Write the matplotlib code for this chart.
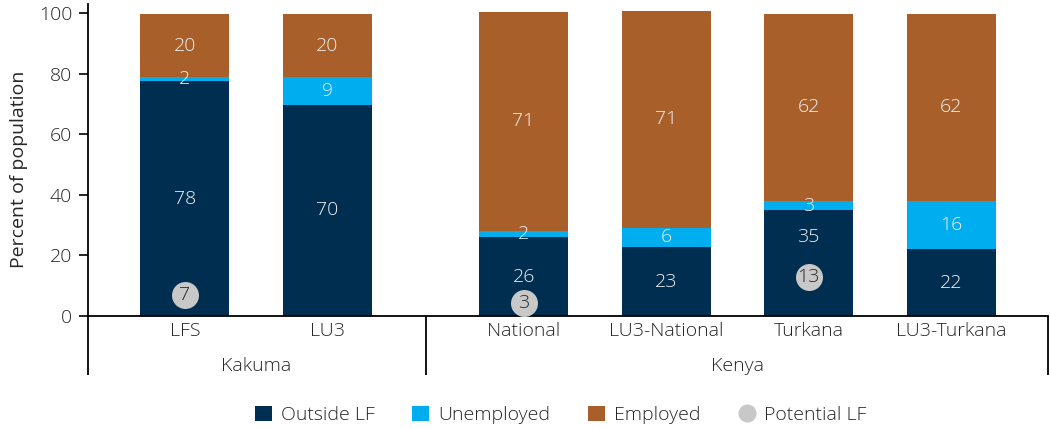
import matplotlib
matplotlib.use("Agg")
import matplotlib.pyplot as plt
from matplotlib.patches import Patch
from matplotlib.lines import Line2D
import matplotlib.transforms as mtransforms

plt.rcParams['font.family'] = ['Open Sans', 'DejaVu Sans']
plt.rcParams['font.weight'] = 'light'
plt.rcParams['font.size'] = 14

# Data (bar heights, printed labels as shown)
categories = ["LFS", "LU3", "National", "LU3-National", "Turkana", "LU3-Turkana"]
groups = ["Kakuma", "Kenya"]
group_sizes = [2, 4]

outside = [77.5, 69.8, 26.1, 22.8, 35.0, 22.1]
unemployed = [1.4, 9.1, 2.0, 6.4, 3.0, 15.9]
employed = [20.9, 20.9, 72.4, 71.6, 61.8, 61.8]

outside_lbl = [78, 70, 26, 23, 35, 22]
unemployed_lbl = [2, 9, 2, 6, 3, 16]
employed_lbl = [20, 20, 71, 71, 62, 62]

potential_lf = [7, None, 3, None, 13, None]

c_out = "#002E51"
c_unemp = "#00ADEF"
c_emp = "#A95F29"
c_pot = "#C8C8C8"
txt = "#262626"
fs = 14

# x positions with a gap between the two groups
gap = 0.377
x = []
pos = 0.0
for gi, n in enumerate(group_sizes):
    for i in range(n):
        x.append(pos)
        pos += 1
    pos += gap
width = 0.625

fig = plt.figure(figsize=(10.5, 4.29), dpi=100)
ax = fig.add_axes([88 / 1050, 1 - 316 / 429, 960 / 1050, 312 / 429])

b2 = [o for o in outside]
b3 = [o + u for o, u in zip(outside, unemployed)]
ax.bar(x, outside, width, color=c_out, zorder=2)
ax.bar(x, unemployed, width, bottom=b2, color=c_unemp, zorder=2)
ax.bar(x, employed, width, bottom=b3, color=c_emp, zorder=2)

ylim_top = 103.1
ax.set_ylim(0, ylim_top)
ax.set_xlim(x[0] - 0.68, x[-1] + 0.68)

# circle radius in data units (27 px diameter)
r_units = 13.5 / 312 * ylim_top
ms = 27 / (100 / 72)

for i in range(len(x)):
    circ_top = None
    if potential_lf[i] is not None:
        cy = max(potential_lf[i], r_units)
        ax.plot(x[i], cy, 'o', ms=ms, color=c_pot, mec='none', zorder=3)
        ax.text(x[i], cy, str(potential_lf[i]), ha='center', va='center',
                color=txt, fontsize=fs, zorder=4)
        circ_top = cy + r_units
    # outside LF label, moved up when it would sit on the circle
    yc = outside[i] / 2
    if circ_top is not None and yc - circ_top < 4:
        yc = (circ_top + outside[i]) / 2
    ax.text(x[i], yc, str(outside_lbl[i]), ha='center', va='center',
            color='#F2F2F2', fontsize=fs, zorder=4)
    ax.text(x[i], b2[i] + unemployed[i] / 2, str(unemployed_lbl[i]), ha='center',
            va='center', color='#F2F2F2', fontsize=fs, zorder=4)
    ax.text(x[i], b3[i] + employed[i] / 2, str(employed_lbl[i]), ha='center',
            va='center', color='#F2F2F2', fontsize=fs, zorder=4)

# axes styling
for s in ['top', 'right']:
    ax.spines[s].set_visible(False)
for s in ['left', 'bottom']:
    ax.spines[s].set_linewidth(1.3)
    ax.spines[s].set_color('black')
ax.set_yticks([0, 20, 40, 60, 80, 100])
ax.tick_params(axis='y', length=6.3, width=1.2, pad=5, labelcolor=txt, labelsize=fs)
ax.set_xticks(x)
ax.set_xticklabels(categories)
ax.tick_params(axis='x', length=0, pad=4.5, labelcolor=txt, labelsize=fs)
ax.set_ylabel("Percent of population", color=txt, fontsize=fs)
ax.yaxis.set_label_coords(-0.063, 0.47)

# group labels and bracket lines
trans = mtransforms.blended_transform_factory(ax.transData, ax.transAxes)
depth = -59 / 312
start = 0
bounds = [ax.get_xlim()[0]]
for gi, n in enumerate(group_sizes):
    xs = x[start:start + n]
    ax.text((xs[0] + xs[-1]) / 2, -50 / 312, groups[gi], transform=trans,
            ha='center', va='center', color=txt, fontsize=fs)
    start += n
    if start < len(x):
        bounds.append((x[start - 1] + x[start]) / 2)
bounds.append(ax.get_xlim()[1])
for bx in bounds:
    ax.plot([bx, bx], [0, depth], transform=trans, color='black', lw=1.3,
            clip_on=False, solid_capstyle='butt')

# legend
handles = [
    Patch(facecolor=c_out, edgecolor='none', label="Outside LF"),
    Patch(facecolor=c_unemp, edgecolor='none', label="Unemployed"),
    Patch(facecolor=c_emp, edgecolor='none', label="Employed"),
    Line2D([], [], marker='o', ls='none', ms=13, color=c_pot, mec='none',
           label="Potential LF"),
]
leg = fig.legend(handles=handles, loc='center', bbox_to_anchor=(0.534, 0.033),
                 ncol=4, frameon=False, fontsize=fs, handlelength=0.88,
                 handleheight=0.88, handletextpad=0.45, columnspacing=1.95)
for t in leg.get_texts():
    t.set_color(txt)

fig.savefig("out.png", dpi=100)
